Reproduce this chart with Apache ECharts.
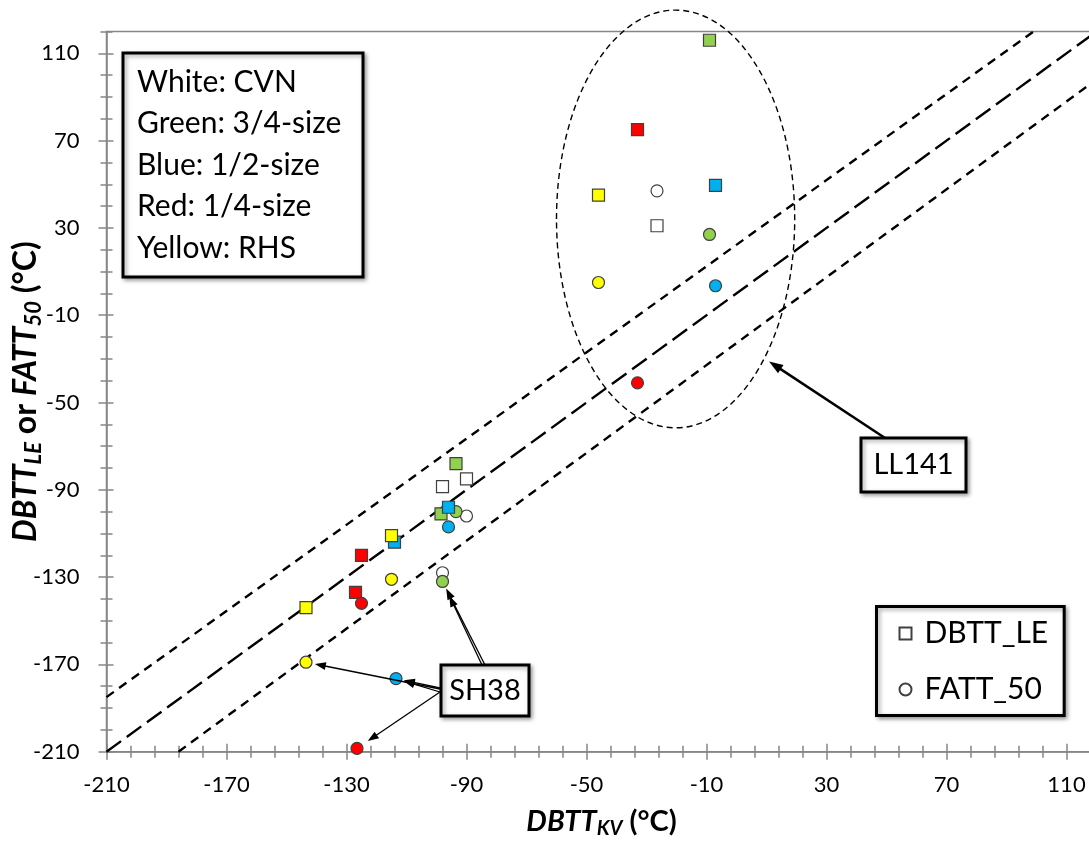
<!DOCTYPE html>
<html><head><meta charset="utf-8">
<script src="https://cdn.jsdelivr.net/npm/echarts@6/dist/echarts.min.js"></script>
<style>html,body{margin:0;padding:0;background:#fff}#c{width:1089px;height:843px}</style>
</head><body><div id="c"></div>
<script>
// ---- tick labels ----
const xMajor = [-210,-170,-130,-90,-50,-10,30,70,110];
const yMajor = [-210,-170,-130,-90,-50,-10,30,70,110];

// ---- data: [DBTT_KV, DBTT_LE or FATT_50] ----
const whiteLE  = [[-26.5,31],[-98,-88.5],[-90,-85]];
const whiteFA  = [[-26.5,47],[-90,-102],[-98,-128]];
const greenLE  = [[-9,116],[-93.5,-78],[-98.5,-101]];
const greenFA  = [[-9,27],[-93.5,-100],[-98,-132]];
const blueLE   = [[-7,49.5],[-96,-98],[-114,-114]];
const blueFA   = [[-7,3.5],[-96,-107],[-113.5,-176.5]];
const redLE    = [[-33,75],[-125,-120],[-127,-137]];
const redFA    = [[-33,-41],[-125,-142],[-126.5,-208.5]];
const yellowLE = [[-46,45],[-115,-111],[-143.5,-144]];
const yellowFA = [[-46,5],[-115,-131],[-143.5,-169]];

// ---- reference lines (1:1 and scatter band) ----
const lineUpper = [[-210,-185],[99,120]];
const lineMid   = [[-210,-210],[120,120]];
const lineLower = [[-186,-210],[120,98]];

const boxText = ['White: CVN','Green: 3/4-size','Blue: 1/2-size','Red: 1/4-size','Yellow: RHS'];

const FONT = 'Lato';
const AX = '#868686';
const xMinor = [], yMinor = [];
for (let v = -210; v <= 120; v += 8) if (!xMajor.includes(v)) xMinor.push(v);
for (let v = -210; v <= 120; v += 10) if (!yMajor.includes(v)) yMinor.push(v);

const gridRect = {left:106.5, top:31.5, right:-7.5, bottom:91.3, outerBoundsMode:'none', containLabel:false};
const grids = [0,1,2,3].map(i => Object.assign({}, gridRect, i===0 ? {show:true, borderColor:AX, borderWidth:1.5, backgroundColor:'transparent'} : {show:false}));

function rich(big, small, pad) {
  return {
    b:{fontFamily:FONT, fontWeight:'bold', fontStyle:'italic', fontSize:big, color:'#000'},
    s:{fontFamily:FONT, fontWeight:'bold', fontStyle:'italic', fontSize:small, color:'#000', padding:[pad,0,0,0]},
    n:{fontFamily:FONT, fontWeight:'bold', fontSize:big, color:'#000'}};
}

function mkX(i, ticks, inside, len, withLabel) {
  const a = {type:'value', gridIndex:i, min:-210, max:120, position:'bottom',
    axisLine:{show:i===0, onZero:false, lineStyle:{color:AX, width:1.5}},
    axisTick:{show:true, inside, length:len, customValues:ticks, lineStyle:{color:AX, width:1.5}},
    axisLabel:{show:false}, splitLine:{show:false}};
  if (withLabel) {
    a.axisLabel = {show:true, customValues:xMajor, margin:22, fontSize:22, fontFamily:FONT, color:'#000'};
    a.name = '{b|DBTT}{s|KV}{n| (°C)}';
    a.nameLocation = 'middle';
    a.nameGap = 52;
    a.nameMoveOverlap = false;
    a.nameTextStyle = {rich:rich(29,20,15)};
  }
  return a;
}
function mkY(i, ticks, inside, len, withLabel) {
  const a = {type:'value', gridIndex:i, min:-210, max:120, position:'left',
    axisLine:{show:i===0, onZero:false, lineStyle:{color:AX, width:1.5}},
    axisTick:{show:true, inside, length:len, customValues:ticks, lineStyle:{color:AX, width:1.5}},
    axisLabel:{show:false}, splitLine:{show:false}};
  if (withLabel) {
    a.axisLabel = {show:true, customValues:yMajor, margin:27, fontSize:22, fontFamily:FONT, color:'#000'};
    a.name = '{b|DBTT}{s|LE}{n| or }{b|FATT}{s|50}{n| (°C)}';
    a.nameLocation = 'middle';
    a.nameGap = 62;
    a.nameMoveOverlap = false;
    a.nameTextStyle = {rich:rich(32,22,16)};
  }
  return a;
}

const xAxes = [mkX(0,xMajor,false,8,true), mkX(1,xMajor,true,8,false), mkX(2,xMinor,false,6,false), mkX(3,xMinor,true,6,false)];
const yAxes = [mkY(0,yMajor,false,8,true), mkY(1,yMajor,true,7,false), mkY(2,yMinor,false,6,false), mkY(3,yMinor,true,6,false)];

function pts(name, data, color, shape) {
  return {type:'scatter', name, data, symbol:shape, symbolSize:12, xAxisIndex:0, yAxisIndex:0, z:5, silent:true,
    itemStyle:{color, borderColor:'#404040', borderWidth:1.2, opacity:1}, emphasis:{disabled:true}};
}
function ref(data, dash) {
  return {type:'line', data, xAxisIndex:0, yAxisIndex:0, showSymbol:false, symbol:'none', silent:true, z:3,
    lineStyle:{color:'#000', width:2.4, type:dash}, emphasis:{disabled:true}};
}

const series = [
  ref(lineUpper,[9,6.5]), ref(lineMid,[18,7]), ref(lineLower,[9,6.5]),
  pts('DBTT_LE', [], '#FFFFFF', 'rect'), pts('FATT_50', [], '#FFFFFF', 'circle'),
  pts('w_le', whiteLE, '#FFFFFF', 'rect'), pts('w_fa', whiteFA, '#FFFFFF', 'circle'),
  pts('g_le', greenLE, '#92D050', 'rect'), pts('g_fa', greenFA, '#92D050', 'circle'),
  pts('b_le', blueLE, '#00B0F0', 'rect'), pts('b_fa', blueFA, '#00B0F0', 'circle'),
  pts('r_le', redLE, '#FF0000', 'rect'), pts('r_fa', redFA, '#FF0000', 'circle'),
  pts('y_le', yellowLE, '#FFFF00', 'rect'), pts('y_fa', yellowFA, '#FFFF00', 'circle')
];

const chart = echarts.init(document.getElementById('c'));
chart.setOption({
  animation:false,
  textStyle:{fontFamily:FONT},
  grid:grids, xAxis:xAxes, yAxis:yAxes, series,
  legend:{show:true, data:['DBTT_LE','FATT_50'], orient:'vertical', left:876.5, top:606.5,
    padding:[9,16,8,22], itemGap:20, itemWidth:12, itemHeight:12, selectedMode:false,
    formatter: n => '{t|' + n + '}',
    textStyle:{fontSize:30, fontFamily:FONT, color:'#000', lineHeight:36,
      rich:{t:{fontSize:30, fontFamily:FONT, color:'#000', lineHeight:36, padding:[0,0,0,8]}}},
    backgroundColor:'#fff', borderColor:'#000', borderWidth:3, borderRadius:0,
    shadowBlur:4, shadowColor:'rgba(0,0,0,0.35)', shadowOffsetX:2, shadowOffsetY:2}
});

// ---- annotations ----
const P = v => chart.convertToPixel({gridIndex:0}, v);
function arrow(x1,y1,x2,y2,w,hl,hw){
  const dx=x2-x1, dy=y2-y1, L=Math.hypot(dx,dy), ux=dx/L, uy=dy/L;
  const bx=x2-ux*hl, by=y2-uy*hl;
  return [
    {type:'line', silent:true, z:100, shape:{x1,y1,x2:bx+ux*2,y2:by+uy*2}, style:{stroke:'#000', lineWidth:w}},
    {type:'polygon', silent:true, z:100, shape:{points:[[x2,y2],[bx-uy*hw/2,by+ux*hw/2],[bx+uy*hw/2,by-ux*hw/2]]}, style:{fill:'#000'}}
  ];
}
function arrowToPoint(pt, from, gap, w, hl, hw){
  const p = P(pt); const dx=from[0]-p[0], dy=from[1]-p[1], L=Math.hypot(dx,dy);
  return arrow(from[0],from[1], p[0]+dx/L*gap, p[1]+dy/L*gap, w, hl, hw);
}
function box(x,y,w,h,text,font){
  return [
    {type:'rect', silent:true, z:90, shape:{x,y,width:w,height:h},
     style:{fill:'#fff', stroke:'#000', lineWidth:3, shadowBlur:4, shadowOffsetX:2, shadowOffsetY:2, shadowColor:'rgba(0,0,0,0.35)'}},
    {type:'text', silent:true, z:91, x:x+w/2, y:y+h/2, style:{text, font:font+'px '+FONT, fill:'#000', align:'center', verticalAlign:'middle'}}
  ];
}

const ring = {cx:-20.3, cy:34.1, rx:39.7, ry:95.7};
const c0 = P([ring.cx, ring.cy]);
const c1 = P([ring.cx+ring.rx, ring.cy+ring.ry]);
const erx = c1[0]-c0[0], ery = c0[1]-c1[1];
const th = 41*Math.PI/180;
const tipLL = [c0[0]+1.04*erx*Math.cos(th), c0[1]+1.04*ery*Math.sin(th)];

const g = [];
g.push({type:'ellipse', silent:true, z:4, shape:{cx:c0[0], cy:c0[1], rx:erx, ry:ery},
  style:{fill:'none', stroke:'#000', lineWidth:1.4, lineDash:[6,4]}});
// top-left key box
g.push({type:'rect', silent:true, z:90, shape:{x:123,y:53,width:240,height:224},
  style:{fill:'#fff', stroke:'#000', lineWidth:3, shadowBlur:4, shadowOffsetX:2, shadowOffsetY:2, shadowColor:'rgba(0,0,0,0.35)'}});
g.push({type:'text', silent:true, z:91, x:137, y:61.5,
  style:{text:boxText.join('\n'), font:'30px '+FONT, fill:'#000', lineHeight:41.5, align:'left', verticalAlign:'top'}});
// callouts
g.push(...box(861,438,105,54,'LL141',29));
g.push(...box(441,665,88,51,'SH38',29));
g.push(...arrow(885,438,tipLL[0],tipLL[1],2.5,14,10));
g.push(...arrowToPoint(greenFA[2],[485,665],8,1.3,11,8));
g.push(...arrowToPoint(greenFA[2],[482,665],16,1.3,11,8));
g.push(...arrowToPoint(yellowFA[2],[440,689],9,1.3,11,8));
g.push(...arrowToPoint(blueFA[2],[440,688],8,1.3,11,8));
g.push(...arrowToPoint(blueFA[2],[440,692],8,1.3,11,8));
g.push(...arrowToPoint(redFA[2],[440,692],13,1.3,11,8));
chart.setOption({graphic:g});
</script></body></html>
